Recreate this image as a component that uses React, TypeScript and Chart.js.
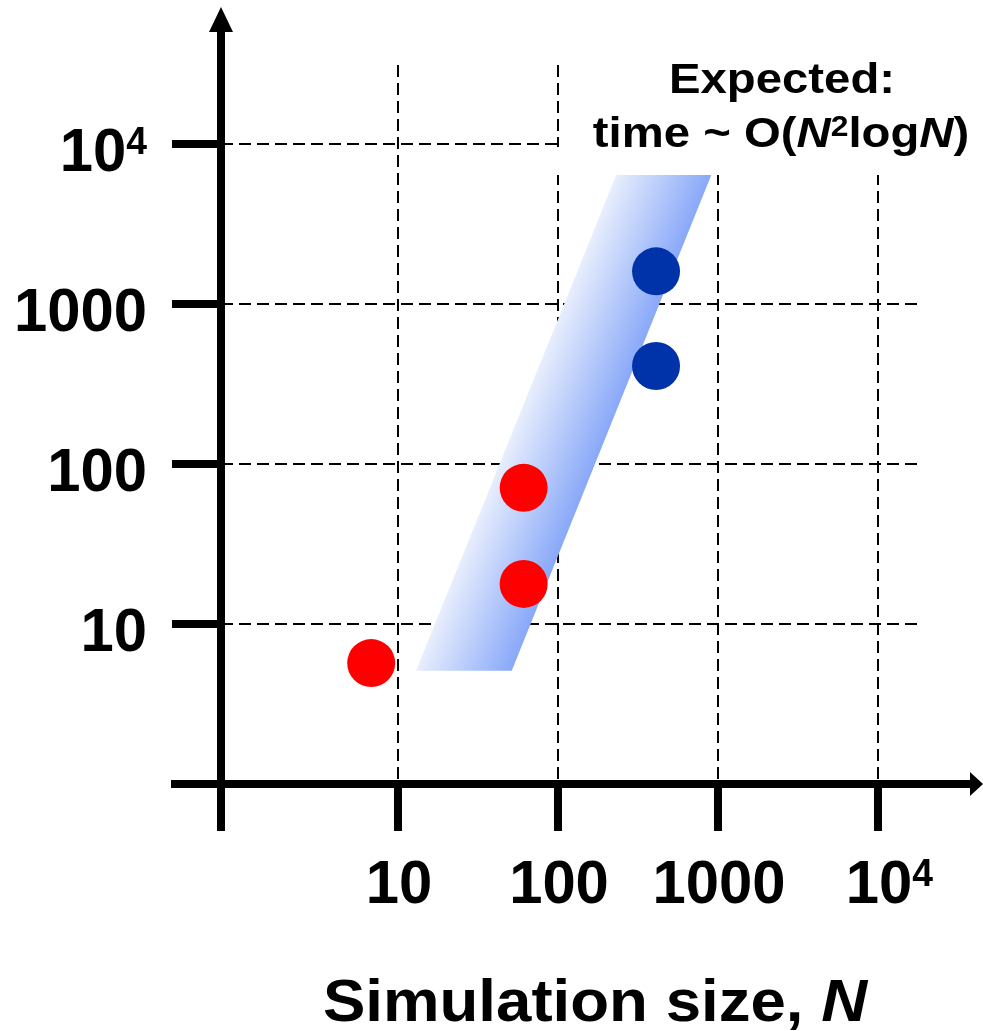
import React, { useEffect, useRef } from "react";
import { Chart, registerables } from "chart.js";

Chart.register(...registerables);

// ---- data ----
const xTickValues = [10, 100, 1000, 10000];
const yTickValues = [10, 100, 1000, 10000];
const xTickLabels = ["10", "100", "1000", "10^4"];
const yTickLabels = ["10", "100", "1000", "10^4"];

const smallSimN = [6.8, 61, 61];
const smallSimTime = [5.7, 71, 17.8];
const largeSimN = [410, 410];
const largeSimTime = [1600, 410];

// Expected-scaling band (closed polygon corners)
const bandN = [12.96, 232.8, 913, 51.4, 12.96];
const bandTime = [5.11, 6494, 6494, 5.11, 5.11];

const xMin = 0.783;
const xMax = 17783;
const yMin = 1;
const yMax = 31190;

const xAxisTitle = ["Simulation size, ", "N"];
const annotationLine1 = "Expected:";

const FONT = '"Liberation Sans", Arial, Helvetica, sans-serif';

type Run = { text: string; size: number; italic?: boolean; bold?: boolean; rise?: number };

function labelRuns(label: string, size: number, supSize: number, rise: number): Run[] {
  const [base, sup] = label.split("^");
  const r: Run[] = [{ text: base, size }];
  if (sup) r.push({ text: sup, size: supSize, rise });
  return r;
}

function drawRuns(
  ctx: CanvasRenderingContext2D,
  runs: Run[],
  x: number,
  y: number,
  align: "left" | "center" | "right" | "centerFirst",
  sx = 1
) {
  ctx.save();
  ctx.textBaseline = "alphabetic";
  ctx.textAlign = "left";
  ctx.fillStyle = "#000";
  const fonts = runs.map(
    (r) => `${r.italic ? "italic " : ""}${r.bold === false ? "" : "bold "}${r.size}px ${FONT}`
  );
  const widths = runs.map((r, i) => {
    ctx.font = fonts[i];
    return ctx.measureText(r.text).width;
  });
  const total = widths.reduce((a, b) => a + b, 0) * sx;
  let start = x;
  if (align === "center") start = x - total / 2;
  else if (align === "right") start = x - total;
  else if (align === "centerFirst") start = x - (widths[0] * sx) / 2;
  ctx.translate(start, y);
  ctx.scale(sx, 1);
  let cx = 0;
  runs.forEach((r, i) => {
    ctx.font = fonts[i];
    ctx.fillText(r.text, cx, -(r.rise || 0));
    cx += widths[i];
  });
  ctx.restore();
}

const overlayPlugin = {
  id: "overlay",
  afterDraw(chart: any) {
    const ctx: CanvasRenderingContext2D = chart.ctx;
    const xs = chart.scales.x;
    const ys = chart.scales.y;
    const area = chart.chartArea;
    const axisX = area.left;
    const axisY = area.bottom;

    // white box behind annotation
    ctx.save();
    ctx.fillStyle = "#fff";
    const g100 = xs.getPixelForValue(100);
    const g1e4 = ys.getPixelForValue(10000);
    ctx.fillRect(g100 + 2, 40, chart.width - g100, 175 - 40);
    ctx.fillRect(g100 - 3, g1e4 + 3, 10, 175 - g1e4 - 3);
    ctx.restore();

    // annotation
    drawRuns(ctx, [{ text: annotationLine1, size: 43 }], 782, 93, "center", 1.1);
    drawRuns(
      ctx,
      [
        { text: "time ~ O(", size: 43 },
        { text: "N", size: 43, italic: true },
        { text: "2", size: 29, rise: 11 },
        { text: "log", size: 43 },
        { text: "N", size: 43, italic: true },
        { text: ")", size: 43 },
      ],
      781,
      147,
      "center",
      1.1
    );

    // axes
    ctx.save();
    ctx.strokeStyle = "#000";
    ctx.fillStyle = "#000";
    ctx.lineWidth = 8;
    ctx.lineCap = "butt";
    ctx.beginPath();
    ctx.moveTo(axisX, 831);
    ctx.lineTo(axisX, 30);
    ctx.moveTo(171, axisY);
    ctx.lineTo(972, axisY);
    yTickValues.forEach((v) => {
      const py = ys.getPixelForValue(v);
      ctx.moveTo(172, py);
      ctx.lineTo(axisX, py);
    });
    xTickValues.forEach((v) => {
      const px = xs.getPixelForValue(v);
      ctx.moveTo(px, axisY);
      ctx.lineTo(px, 831);
    });
    ctx.stroke();
    // arrows
    ctx.beginPath();
    ctx.moveTo(axisX, 7);
    ctx.lineTo(axisX - 12, 32);
    ctx.lineTo(axisX + 12, 32);
    ctx.closePath();
    ctx.fill();
    ctx.beginPath();
    ctx.moveTo(983, axisY);
    ctx.lineTo(970, axisY - 12);
    ctx.lineTo(970, axisY + 12);
    ctx.closePath();
    ctx.fill();
    ctx.restore();

    // tick labels
    yTickValues.forEach((v, i) => {
      const py = ys.getPixelForValue(v);
      drawRuns(ctx, labelRuns(yTickLabels[i], 61, 38, 17), 147, py + 27, "right", 0.98);
    });
    xTickValues.forEach((v, i) => {
      const px = xs.getPixelForValue(v);
      drawRuns(ctx, labelRuns(xTickLabels[i], 61, 38, 17), px + 1, 903, "centerFirst", 0.98);
    });

    // axis title
    drawRuns(
      ctx,
      [
        { text: xAxisTitle[0], size: 60 },
        { text: xAxisTitle[1], size: 60, italic: true },
      ],
      595,
      1021,
      "center",
      1.06
    );
  },
};

function bandGradient(c: any) {
  const chart = c.chart;
  const xs = chart.scales?.x;
  const ys = chart.scales?.y;
  if (!chart.chartArea || !xs || !ys) return "rgba(160,185,248,1)";
  const p0 = { x: xs.getPixelForValue(bandN[0]), y: ys.getPixelForValue(bandTime[0]) };
  const p1 = { x: xs.getPixelForValue(bandN[1]), y: ys.getPixelForValue(bandTime[1]) };
  const p3 = { x: xs.getPixelForValue(bandN[3]), y: ys.getPixelForValue(bandTime[3]) };
  const dx = p1.x - p0.x;
  const dy = p1.y - p0.y;
  const len = Math.hypot(dx, dy) || 1;
  let nx = -dy / len;
  let ny = dx / len;
  let w = nx * (p3.x - p0.x) + ny * (p3.y - p0.y);
  if (w < 0) {
    nx = -nx;
    ny = -ny;
    w = -w;
  }
  const g = chart.ctx.createLinearGradient(p0.x, p0.y, p0.x + nx * w, p0.y + ny * w);
  g.addColorStop(0, "rgb(232,238,253)");
  g.addColorStop(1, "rgb(136,168,248)");
  return g;
}

export default function App() {
  const ref = useRef<HTMLCanvasElement | null>(null);
  useEffect(() => {
    if (!ref.current) return;
    const chart = new Chart(ref.current, {
      type: "scatter",
      data: {
        datasets: [
          {
            label: "band",
            data: bandN.map((n, i) => ({ x: n, y: bandTime[i] })),
            showLine: true,
            fill: "shape",
            backgroundColor: bandGradient,
            borderColor: "transparent",
            borderWidth: 0,
            pointRadius: 0,
            tension: 0,
            order: 3,
          } as any,
          {
            label: "small",
            data: smallSimN.map((n, i) => ({ x: n, y: smallSimTime[i] })),
            backgroundColor: "#ff0000",
            borderWidth: 0,
            pointRadius: 24,
            pointHoverRadius: 24,
            order: 1,
          },
          {
            label: "large",
            data: largeSimN.map((n, i) => ({ x: n, y: largeSimTime[i] })),
            backgroundColor: "#0033aa",
            borderWidth: 0,
            pointRadius: 24,
            pointHoverRadius: 24,
            order: 1,
          },
        ],
      },
      options: {
        responsive: false,
        animation: false,
        devicePixelRatio: 1,
        events: [],
        layout: { padding: { left: 221, right: 65, top: 65, bottom: 247 } },
        plugins: { legend: { display: false }, tooltip: { enabled: false } },
        scales: {
          x: {
            type: "logarithmic",
            min: xMin,
            max: xMax,
            position: "bottom",
            z: 1,
            ticks: { display: false },
            grid: { color: "#000", lineWidth: 2, drawTicks: false },
            border: { display: false, dash: [12, 6] },
            afterBuildTicks: (s: any) => {
              s.ticks = xTickValues.map((v) => ({ value: v }));
            },
            afterFit: (s: any) => {
              s.height = 0;
            },
          },
          y: {
            type: "logarithmic",
            min: yMin,
            max: yMax,
            position: "left",
            z: 1,
            ticks: { display: false },
            grid: { color: "#000", lineWidth: 2, drawTicks: false },
            border: { display: false, dash: [12, 6] },
            afterBuildTicks: (s: any) => {
              s.ticks = yTickValues.map((v) => ({ value: v }));
            },
            afterFit: (s: any) => {
              s.width = 0;
            },
          },
        } as any,
      },
      plugins: [overlayPlugin],
    });
    return () => chart.destroy();
  }, []);
  return (
    <div style={{ position: "absolute", left: 0, top: 0, width: 983, height: 1031, background: "#fff" }}>
      <canvas ref={ref} width={983} height={1031} style={{ display: "block" }} />
    </div>
  );
}
